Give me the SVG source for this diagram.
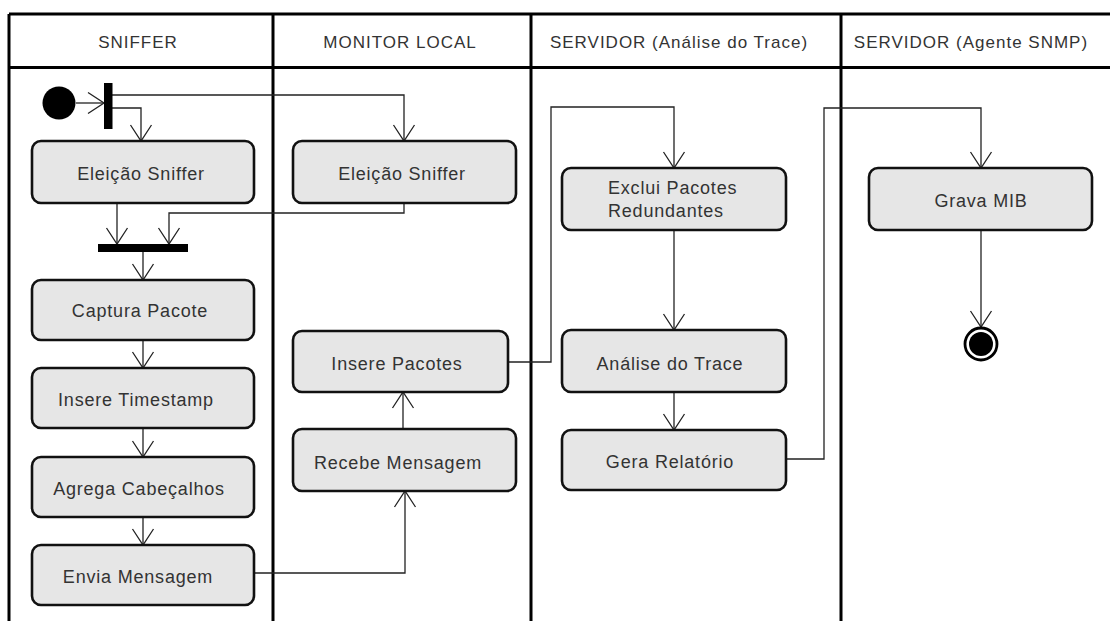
<svg xmlns="http://www.w3.org/2000/svg" width="1110" height="621" viewBox="0 0 1110 621">
<defs>
<marker id="arr" markerUnits="userSpaceOnUse" markerWidth="24" markerHeight="24" viewBox="-17 -12 19 24" refX="0" refY="0" orient="auto">
<path d="M-16,-10.5 L0,0 L-16,10.5" fill="none" stroke="#222" stroke-width="1.3"/>
</marker>
</defs>
<style>
.lane{stroke:#000;stroke-width:3;fill:none}
.hdr{font-family:"Liberation Sans",Arial,sans-serif;font-size:17px;letter-spacing:1px;fill:#333;text-anchor:middle}
.box{fill:#e6e6e6;stroke:#111;stroke-width:2.6}
.lbl{font-family:"Liberation Sans",Arial,sans-serif;font-size:18px;letter-spacing:0.8px;fill:#333;text-anchor:middle}
.lbls{font-family:"Liberation Sans",Arial,sans-serif;font-size:18px;letter-spacing:0.8px;fill:#333}
.con{fill:none;stroke:#222;stroke-width:1.3;marker-end:url(#arr)}
</style>
<rect width="1110" height="621" fill="#fff"/>
<g id="swimlanes">
<line class="lane" x1="9" y1="14" x2="1110" y2="14"/>
<line class="lane" x1="9" y1="67.5" x2="1110" y2="67.5"/>
<line class="lane" x1="9" y1="14" x2="9" y2="621"/>
<line class="lane" x1="273" y1="14" x2="273" y2="621"/>
<line class="lane" x1="531" y1="14" x2="531" y2="621"/>
<line class="lane" x1="841" y1="14" x2="841" y2="621"/>
<text class="hdr" x="138" y="48">SNIFFER</text>
<text class="hdr" x="400" y="48">MONITOR LOCAL</text>
<text class="hdr" x="679" y="48">SERVIDOR (Análise do Trace)</text>
<text class="hdr" x="971" y="48">SERVIDOR (Agente SNMP)</text>
</g>
<g id="connectors">
<path class="con" d="M76,103 L104,103"/>
<path class="con" d="M112,108 L141,108 L141,141"/>
<path class="con" d="M112,95 L404,95 L404,141"/>
<path class="con" d="M117,203 L117,244"/>
<path class="con" d="M404,203 L404,213 L169,213 L169,244"/>
<path class="con" d="M143,252 L143,280"/>
<path class="con" d="M143,340 L143,368"/>
<path class="con" d="M143,428 L143,457"/>
<path class="con" d="M143,517 L143,545"/>
<path class="con" d="M254,573 L405,573 L405,491"/>
<path class="con" d="M403,429 L403,392"/>
<path class="con" d="M508,362 L551,362 L551,107 L674,107 L674,168"/>
<path class="con" d="M674,230 L674,330"/>
<path class="con" d="M674,392 L674,430"/>
<path class="con" d="M786,459 L824,459 L824,108 L981,108 L981,168"/>
<path class="con" d="M981,230 L981,327"/>
</g>
<g id="start"><circle cx="59" cy="103" r="16.5" fill="#000"/></g>
<g id="fork"><rect x="104" y="83" width="8.5" height="46" fill="#000"/></g>
<g id="join"><rect x="98" y="244" width="90" height="8" fill="#000"/></g>
<g id="n_eleicao_sniffer"><rect class="box" x="32" y="141" width="222" height="62" rx="9"/><text class="lbl" x="141" y="180">Eleição Sniffer</text></g>
<g id="n_eleicao_monitor"><rect class="box" x="293" y="141" width="223" height="62" rx="9"/><text class="lbl" x="402" y="180">Eleição Sniffer</text></g>
<g id="n_captura"><rect class="box" x="32" y="280" width="222" height="60" rx="9"/><text class="lbl" x="140" y="317">Captura Pacote</text></g>
<g id="n_timestamp"><rect class="box" x="32" y="368" width="222" height="60" rx="9"/><text class="lbl" x="136" y="406">Insere Timestamp</text></g>
<g id="n_agrega"><rect class="box" x="32" y="457" width="222" height="60" rx="9"/><text class="lbl" x="139" y="495">Agrega Cabeçalhos</text></g>
<g id="n_envia"><rect class="box" x="32" y="545" width="222" height="60" rx="9"/><text class="lbl" x="138" y="583">Envia Mensagem</text></g>
<g id="n_insere_pacotes"><rect class="box" x="293" y="331" width="215" height="61" rx="9"/><text class="lbl" x="397" y="370">Insere Pacotes</text></g>
<g id="n_recebe"><rect class="box" x="293" y="429" width="223" height="62" rx="9"/><text class="lbl" x="398" y="469">Recebe Mensagem</text></g>
<g id="n_exclui"><rect class="box" x="562" y="168" width="224" height="62" rx="9"/><text class="lbls" x="608" y="194">Exclui Pacotes</text><text class="lbls" x="608" y="217">Redundantes</text></g>
<g id="n_analise"><rect class="box" x="562" y="330" width="224" height="62" rx="9"/><text class="lbl" x="670" y="370">Análise do Trace</text></g>
<g id="n_gera"><rect class="box" x="562" y="430" width="224" height="60" rx="9"/><text class="lbl" x="670" y="468">Gera Relatório</text></g>
<g id="n_grava"><rect class="box" x="869" y="168" width="223" height="62" rx="9"/><text class="lbl" x="981" y="207">Grava MIB</text></g>
<g id="end"><circle cx="981" cy="344" r="16" fill="#fff" stroke="#000" stroke-width="2.8"/><circle cx="981" cy="344" r="12" fill="#000"/></g>
</svg>
